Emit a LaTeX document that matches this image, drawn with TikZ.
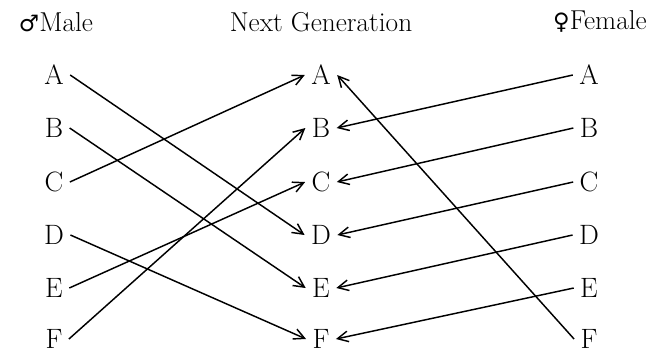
\documentclass[tikz,border=0pt]{standalone}
\usepackage{fontspec}
\newfontfamily\gsym{DejaVu Sans}
\usetikzlibrary{arrows.meta}

\tikzset{every picture/.style={line width=0.75pt}}
\tikzset{
  letter/.style={inner xsep=4.5pt, inner ysep=0.5pt, font=\fontsize{21}{24}\selectfont},
  head/.style={inner sep=0.75pt, font=\fontsize{20.5}{24}\selectfont},
  link/.style={line width=1.1pt, -{Straight Barb[length=8pt,width=8pt]}}
}

\begin{document}
\begin{tikzpicture}[x=0.75pt,y=0.75pt,yscale=-1,xscale=1]
\path[use as bounding box] (0,0) rectangle (663,355);

% Text Node
\node [head] (hmale) at (56,22) {{\gsym\fontsize{17}{20}\selectfont ♂}Male};
% Text Node
\node [head] (hnext) at (321,22) {Next Generation};
% Text Node
\node [head] (hfemale) at (600,21) {{\gsym\fontsize{17}{20}\selectfont ♀}Female};

% Male column
\node [letter] (m-A) at (54,75) {A};
\node [letter] (m-B) at (54,128) {B};
\node [letter] (m-C) at (54,182) {C};
\node [letter] (m-D) at (54,235) {D};
\node [letter] (m-E) at (54,288) {E};
\node [letter] (m-F) at (54,339) {F};

% Next generation column
\node [letter] (n-A) at (321,75) {A};
\node [letter] (n-B) at (321,128) {B};
\node [letter] (n-C) at (321,182) {C};
\node [letter] (n-D) at (321,235) {D};
\node [letter] (n-E) at (321,288) {E};
\node [letter] (n-F) at (321,339) {F};

% Female column
\node [letter] (f-A) at (589,75) {A};
\node [letter] (f-B) at (589,128) {B};
\node [letter] (f-C) at (589,182) {C};
\node [letter] (f-D) at (589,235) {D};
\node [letter] (f-E) at (589,288) {E};
\node [letter] (f-F) at (589,339) {F};

% Male lines
\draw [link] (m-A.east) -- (n-D.west);
\draw [link] (m-B.east) -- (n-E.west);
\draw [link] (m-C.east) -- (n-A.west);
\draw [link] (m-D.east) -- (n-F.west);
\draw [link] (m-E.east) -- (n-C.west);
\draw [link] (m-F.east) -- (n-B.west);

% Female lines
\draw [link] (f-A.west) -- (n-B.east);
\draw [link] (f-B.west) -- (n-C.east);
\draw [link] (f-C.west) -- (n-D.east);
\draw [link] (f-D.west) -- (n-E.east);
\draw [link] (f-E.west) -- (n-F.east);
\draw [link] (f-F.west) -- (n-A.east);

\end{tikzpicture}
\end{document}
